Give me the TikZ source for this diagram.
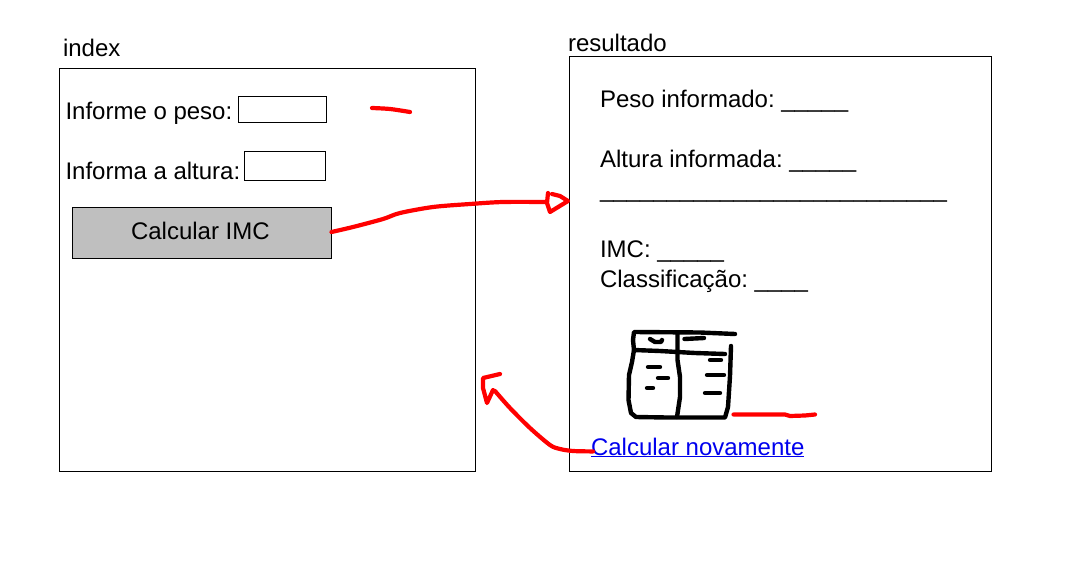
\documentclass[tikz,border=0pt]{standalone}
\usepackage{fontspec}
\setmainfont{Liberation Sans}
\frenchspacing
\tikzset{
  frame/.style={draw=black,line width=0.8pt,fill=white},
  lbl/.style={anchor=base west,inner sep=0pt,outer sep=0pt,font=\fontsize{24}{28}\selectfont,text=black},
  ink/.style={draw=red,line width=4.2pt,line cap=round,line join=round},
  pen/.style={draw=black,line width=4.4pt,line cap=round,line join=round}
}
\begin{document}
\begin{tikzpicture}[x=1pt,y=-1pt]
\useasboundingbox (0,0) rectangle (1078,570);
% frames
\path[frame] (59.5,68.5) rectangle (475.5,471.5);
\path[frame] (569.5,56.5) rectangle (991.5,471.5);
\node[lbl] (tindex) at (63,56) {index};
\node[lbl] (tres) at (568,51) {resultado};
% index form
\node[lbl] (lpeso) at (65.5,119) {Informe o peso:};
\node[lbl] (lalt) at (65.5,179) {Informa a altura:};
\path[frame] (238.5,96.5) rectangle (326.5,122.5);
\path[frame] (244.5,151.5) rectangle (325.5,180.5);
\node[draw=black,line width=0.8pt,fill=black!25,minimum width=259pt,minimum height=51pt,inner sep=0pt,outer sep=0pt] (btn) at (202,233) {};
\node[lbl] (btxt) at (131,239.5) {Calcular IMC};
% result text
\node[lbl] (r1) at (600,107) {Peso informado: \_\_\_\_\_};
\node[lbl] (r2) at (600,167) {Altura informada: \_\_\_\_\_};
\node[lbl] (r3) at (600,197) {\_\_\_\_\_\_\_\_\_\_\_\_\_\_\_\_\_\_\_\_\_\_\_\_\_\_};
\node[lbl] (r4) at (600,257) {IMC: \_\_\_\_\_};
\node[lbl] (r5) at (600,287) {Classificação: \_\_\_\_};
\node[lbl,text={rgb,255:red,0;green,0;blue,238}] (link) at (591,455) {\underline{Calcular novamente}};
% red dash
\draw[ink] plot[smooth,tension=0.5] coordinates {(372,108) (390,109) (410,112)};
% arrow to result
\coordinate (tipA) at (568,201);
\coordinate (startA) at ([yshift=1pt]btn.east);
\draw[ink] plot[smooth,tension=0.5] coordinates {(startA) (353,227) (383,219) (400,213) (433,207) (470,204) (503,202) (547,202)};
\draw[ink] (548,193) -- (547,203) -- (550,212) -- (tipA) -- (560,196) -- (552,194);
% arrow back
\coordinate (tipB) at (483,378);
\coordinate (startB) at ([xshift=2pt,yshift=-4pt]link.west);
\draw[ink] plot[smooth,tension=0.5] coordinates {(startB) (573,451) (560,449) (550,445) (530,428) (510,408) (495,391)};
\draw[ink] (500,374) -- (tipB) -- (483,388) -- (487,403) -- (493,390);
% table sketch
\draw[pen] (735,334) -- (700,332.5) -- (634,332) -- (633,340) -- (634,350) -- (632,362) -- (629,375) -- (628.5,400) -- (631,413) -- (636,417) -- (667,417.5) -- (725,417.5) -- (728,407) -- (730,376) -- (731,346);
\draw[pen] (634,350) -- (660,351) -- (695,353) -- (725,354);
\draw[pen] (677.5,334) -- (677.5,360) -- (680,377) -- (680,397) -- (677,417);
\draw[pen] (650,339) -- (655,342) -- (661,342) -- (662,340);
\draw[pen] (684.5,339) -- (704,338);
\draw[pen] (648,367) -- (660,367);
\draw[pen] (658,378) -- (668,378);
\draw[pen] (647,388) -- (653,388);
\draw[pen] (710,360) -- (721,360);
\draw[pen] (707,375) -- (724,375);
\draw[pen] (705,393) -- (720,393);
\draw[ink] (733.5,414.5) -- (785,414.5) -- (790,416) -- (805,415.5) -- (815,414.5);
\end{tikzpicture}
\end{document}
